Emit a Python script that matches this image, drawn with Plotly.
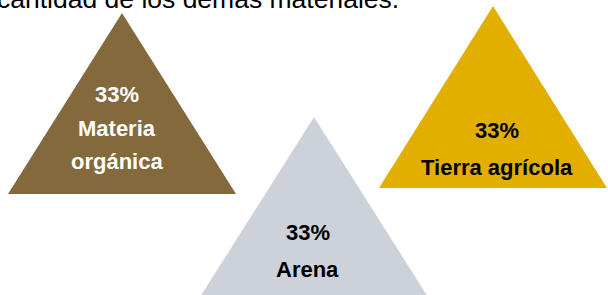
import plotly.graph_objects as go

# Data
materials = ["Materia orgánica", "Arena", "Tierra agrícola"]
label_lines = [["Materia", "orgánica"], ["Arena"], ["Tierra agrícola"]]
shares = [33, 33, 33]
heading = "cantidad de los demás materiales."

# Layout / styling (pixels in a 608x295 canvas)
W, H = 608, 295
colors = ["#84693D", "#CDD1DA", "#E2AE00"]
text_colors = ["white", "black", "black"]
# (apex_x, apex_y, base_y, half_width)
tri_geom = [(122, 13, 194, 114), (314, 117, 297, 114), (493, 6, 188, 114)]
# text centre x and baselines for each line (first is the percentage)
text_pos = [(117, [102, 136, 169]), (307.5, [240, 277]), (496.5, [138, 175])]

FONT = "Arial, Liberation Sans, sans-serif"
fs = 22
hfs = 26.5

fig = go.Figure()
annotations = []
for i, name in enumerate(materials):
    ax, ay, by, hw = tri_geom[i]
    fig.add_trace(go.Scatter(
        x=[ax - hw, ax, ax + hw, ax - hw],
        y=[by, ay, by, by],
        fill="toself", fillcolor=colors[i],
        mode="lines", line=dict(width=0, color=colors[i]),
        name=name, hoverinfo="name", showlegend=False,
    ))
    cx, baselines = text_pos[i]
    lines = [f"{shares[i]}%"] + label_lines[i]
    for line, bl in zip(lines, baselines):
        annotations.append(dict(
            x=cx, y=bl - 0.36 * fs, xref="x", yref="y", text=f"<b>{line}</b>",
            showarrow=False, xanchor="center", yanchor="middle",
            font=dict(family=FONT, size=fs, color=text_colors[i]),
        ))

annotations.append(dict(
    x=0, y=1, xref="paper", yref="paper", xshift=-5, yshift=-(9 - 0.36 * hfs),
    text=heading, showarrow=False, xanchor="left", yanchor="middle",
    font=dict(family=FONT, size=hfs, color="black"),
))

fig.update_layout(
    width=W, height=H,
    margin=dict(l=0, r=0, t=0, b=0),
    paper_bgcolor="white", plot_bgcolor="white",
    xaxis=dict(range=[0, W], visible=False, fixedrange=True),
    yaxis=dict(range=[H, 0], visible=False, fixedrange=True),
    annotations=annotations,
)

fig.write_html("out.html", config={"displayModeBar": False},
               post_script="document.body.style.margin='0';")
